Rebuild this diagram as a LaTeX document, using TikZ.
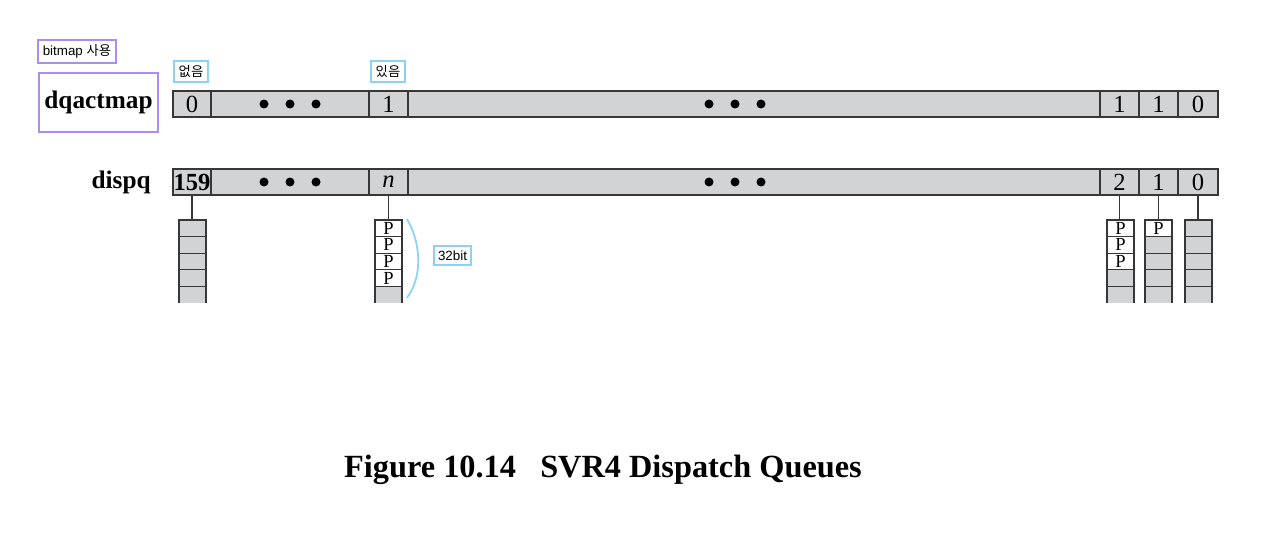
\documentclass[tikz,border=0pt]{standalone}
\usepackage{fontspec}
\setmainfont{Liberation Serif}
\setsansfont{Liberation Sans}
\newfontfamily\krfont{Noto Sans CJK KR}
\usetikzlibrary{positioning,calc}
\definecolor{cellgray}{RGB}{210,211,213}
\definecolor{edgegray}{RGB}{55,55,55}
\definecolor{notepurple}{RGB}{170,140,245}
\definecolor{noteblue}{RGB}{140,210,245}

\begin{document}
\begin{tikzpicture}[
  x=0.02cm, y=-0.02cm,
  cell/.style={draw=edgegray, fill=cellgray, line width=0.6pt, inner sep=0pt, outer sep=0pt, anchor=north west, minimum height=0.52cm, font=\fontsize{14}{14}\selectfont},
  qcell/.style={draw=edgegray, fill=cellgray, line width=0.6pt, inner sep=0pt, outer sep=0pt, minimum width=0.54cm, minimum height=0.332cm, font=\fontsize{10.5}{10}\selectfont},
  pcell/.style={qcell, fill=white},
  rowlabel/.style={font=\fontsize{14.4}{16}\selectfont\bfseries, anchor=east, inner sep=0pt},
  note/.style={draw=noteblue, line width=1.2pt, fill=white, inner sep=2.5pt, font=\sffamily\fontsize{7.6}{8}\selectfont}
]
\useasboundingbox (0,0) rectangle (1280,541);

\node[rowlabel] (maplabel) at (153,102) {dqactmap};
\node[rowlabel] (qlabel) at (151,182) {dispq};
\node[draw=notepurple, line width=1.2pt, minimum width=2.38cm, minimum height=1.18cm] (mapbox) at (98.5,102.5) {};
\node[note, draw=notepurple, anchor=center] (bitnote) at (77,51.5) {bitmap {\krfont 사용}};

\foreach \x/\w/\t/\n in {173/38/0/m1, 211/158//m2, 369/39/1/m3, 408/692//m4, 1100/39/1/m5, 1139/39/1/m6, 1178/40/0/m7}
  \node[cell, minimum width=\w*0.02cm] (\n) at (\x,91) {\t};
\foreach \x/\w/\t/\n in {173/38/\textbf{159}/d1, 211/158//d2, 369/39/\textit{n}/d3, 408/692//d4, 1100/39/2/d5, 1139/39/1/d6, 1178/40/0/d7}
  \node[cell, minimum width=\w*0.02cm] (\n) at (\x,169) {\t};

\foreach \c/\s in {m2/0, m4/-19, d2/0, d4/-19}
  \foreach \dx in {-26,0,26}
    \fill ($(\c.center)+(\s+\dx,0)$) circle (0.09cm);

\node[note] (none) at (191,71.5) {\krfont 없음};
\node[note] (some) at (388,71.5) {\krfont 있음};

\foreach \k/\c/\cx/\np in {qa/d1/192.5/0, qn/d3/388.5/4, qc/d5/1120.5/3, qd/d6/1158.5/1, qe/d7/1198.5/0} {
  \node[qcell, draw=none] (\k-5) at (\cx,{211.7+16.6*5}) {};
  \draw[edgegray, line width=0.6pt] (\k-5.south west) -- (\k-5.north west) -- (\k-5.north east) -- (\k-5.south east);
  \foreach \i in {1,...,4} {
    \ifnum\i>\np
      \node[qcell] (\k-\i) at (\cx,{211.7+16.6*\i}) {};
    \else
      \node[pcell] (\k-\i) at (\cx,{211.7+16.6*\i}) {P};
    \fi
  }
  \draw[edgegray, line width=0.6pt] (\c.south) -- (\c.south |- \k-1.north);
}

\draw[noteblue, line width=1pt] ($(qn-1.north east)+(5,-1)$) .. controls ($(qn-2.east)+(20,0)$) and ($(qn-4.east)+(20,0)$) .. ($(qn-5.east)+(5,3)$);
\node[note] (width) at (452.5,255.5) {32bit};

\node[font=\fontsize{18.4}{20}\selectfont\bfseries] (caption) at (603,470) {Figure 10.14\hspace{0.75em}SVR4 Dispatch Queues};
\end{tikzpicture}
\end{document}
